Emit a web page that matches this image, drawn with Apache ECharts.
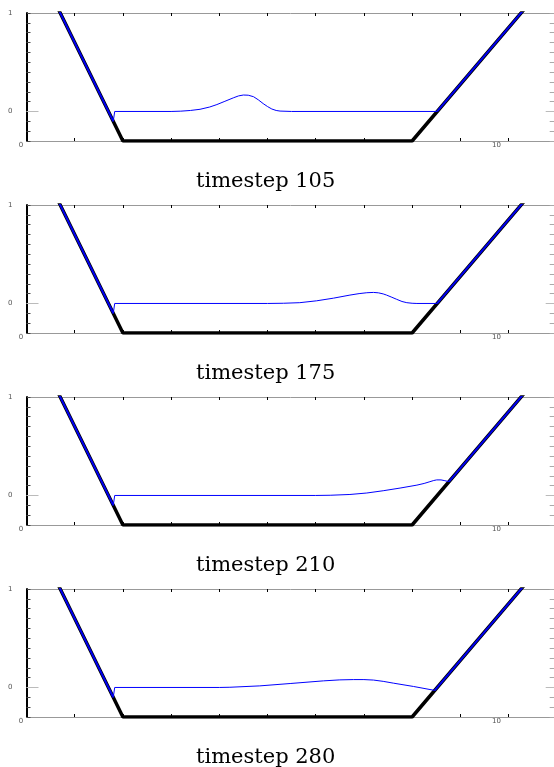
<!DOCTYPE html>
<html>
<head>
<meta charset="utf-8">
<script src="https://cdn.jsdelivr.net/npm/echarts@6/dist/echarts.min.js"></script>
<style>
  html, body { margin: 0; padding: 0; background: #fff; }
  #main { width: 554px; height: 767px; }
</style>
</head>
<body>
<div id="main"></div>
<script>
// bed profile (black)
const bedX = [0, 2, 8, 11];
const bedZ = [1.7, -0.3, -0.3, 1.425];

// water surface per timestep (blue)
const steps = [105, 175, 210, 280];
const surfX105 = [0, 1.8, 1.83, 3.0, 3.2, 3.4, 3.6, 3.8, 3.95, 4.1, 4.3, 4.4, 4.5, 4.6, 4.71, 4.81, 4.91, 5.0, 5.09, 5.18, 5.26, 5.5, 8.52, 11];
const surfZ105 = [1.7, -0.1, 0, 0, 0.003, 0.01, 0.022, 0.045, 0.07, 0.1, 0.14, 0.158, 0.167, 0.165, 0.15, 0.118, 0.08, 0.05, 0.025, 0.01, 0.004, 0, 0, 1.425];
const surfX175 = [0, 1.8, 1.83, 5.0, 5.33, 5.67, 6.02, 6.37, 6.71, 6.9, 7.06, 7.2, 7.3, 7.4, 7.47, 7.58, 7.68, 7.79, 7.89, 8.0, 8.1, 8.52, 11];
const surfZ175 = [1.7, -0.1, 0, 0, 0.002, 0.008, 0.027, 0.054, 0.085, 0.1, 0.109, 0.112, 0.108, 0.097, 0.085, 0.063, 0.042, 0.02, 0.008, 0.002, 0, 0, 1.425];
const surfX210 = [0, 1.8, 1.83, 6.0, 6.3, 6.71, 7.06, 7.4, 7.75, 8.1, 8.25, 8.37, 8.45, 8.51, 8.6, 8.68, 8.765, 11];
const surfZ210 = [1.7, -0.1, 0, 0, 0.002, 0.01, 0.025, 0.048, 0.075, 0.105, 0.122, 0.14, 0.152, 0.158, 0.158, 0.15, 0.14, 1.425];
const surfX280 = [0, 1.8, 1.83, 4.0, 4.22, 4.84, 5.47, 6.16, 6.5, 6.78, 7.0, 7.2, 7.4, 7.61, 8.03, 8.47, 11];
const surfZ280 = [1.7, -0.1, 0, 0, 0.002, 0.016, 0.04, 0.067, 0.077, 0.08, 0.08, 0.075, 0.062, 0.044, 0.01, -0.03, 1.425];

const surfX = [surfX105, surfX175, surfX210, surfX280];
const surfZ = [surfZ105, surfZ175, surfZ210, surfZ280];

const chart = echarts.init(document.getElementById('main'));

function bedAt(x) {
  for (let i = 1; i < bedX.length; i++) {
    if (x <= bedX[i]) {
      const t = (x - bedX[i - 1]) / (bedX[i] - bedX[i - 1]);
      return bedZ[i - 1] + t * (bedZ[i] - bedZ[i - 1]);
    }
  }
  return bedZ[bedZ.length - 1];
}

const panelTop = 13, panelH = 128, panelGap = 192;
const grids = [], xAxes = [], yAxes = [], series = [], titles = [];

steps.forEach(function (step, i) {
  const top = panelTop + i * panelGap;
  grids.push({ left: 26.5, right: -2.7, top: top, height: panelH, outerBoundsMode: 'none' });

  // bottom x axis
  xAxes.push({
    type: 'value', gridIndex: i, min: 0, max: 11, interval: 1, position: 'bottom',
    axisLine: { onZero: false, lineStyle: { color: '#999', width: 1 } },
    axisTick: { inside: true, length: 3, lineStyle: { color: '#000' } },
    splitLine: { show: false },
    axisLabel: {
      margin: 1, fontSize: 7, color: '#555', fontFamily: 'DejaVu Sans',
      formatter: function (v) {
        if (v === 0) return '{a|0}';
        if (v === 10) return '{b|10}';
        return '';
      },
      rich: {
        a: { fontSize: 7, color: '#555', padding: [0, 11, 0, 0] },
        b: { fontSize: 7, color: '#555', padding: [0, 24, 0, 0] }
      }
    }
  });
  // top x axis
  xAxes.push({
    type: 'value', gridIndex: i, min: 0, max: 11, interval: 1, position: 'top',
    axisLine: { onZero: false, lineStyle: { color: '#999', width: 1 } },
    axisTick: { inside: true, length: 3, lineStyle: { color: '#000' } },
    axisLabel: { show: false }, splitLine: { show: false }
  });

  // left y axis
  yAxes.push({
    type: 'value', gridIndex: i, min: -0.3, max: 1, interval: 0.1, position: 'left',
    axisLine: { show: true, onZero: false, lineStyle: { color: '#000', width: 2 } },
    axisTick: { inside: true, length: 4, lineStyle: { color: '#444' } },
    splitLine: { show: false },
    axisLabel: {
      margin: 14, fontSize: 7, color: '#555', fontFamily: 'DejaVu Sans',
      formatter: function (v) {
        if (Math.abs(v - 1) < 1e-6) return '1';
        if (Math.abs(v) < 1e-6) return '0';
        return '';
      }
    }
  });
  // long grey tick at zero, left
  yAxes.push({
    type: 'value', gridIndex: i, min: -0.3, max: 1, position: 'left',
    axisLine: { show: false, onZero: false }, axisLabel: { show: false }, splitLine: { show: false },
    axisTick: { show: true, inside: true, length: 12, customValues: [0], lineStyle: { color: '#bbb' } }
  });
  // right y axis
  yAxes.push({
    type: 'value', gridIndex: i, min: -0.3, max: 1, interval: 0.1, position: 'right',
    axisLine: { show: true, onZero: false, lineStyle: { color: '#999' } },
    axisLabel: { show: false }, splitLine: { show: false },
    axisTick: { inside: true, length: 7, lineStyle: { color: '#aaa' } }
  });
  yAxes.push({
    type: 'value', gridIndex: i, min: -0.3, max: 1, position: 'right',
    axisLine: { show: false, onZero: false }, axisLabel: { show: false }, splitLine: { show: false },
    axisTick: { show: true, inside: true, length: 11, customValues: [0], lineStyle: { color: '#bbb' } }
  });

  const xi = i * 2, yi = i * 4;
  const bed = bedX.map(function (x, k) { return [x, bedZ[k]]; });
  const surf = surfX[i].map(function (x, k) { return [x, surfZ[i][k]]; });
  const dry = surf.map(function (p) { return Math.abs(p[1] - bedAt(p[0])) < 0.012; });
  const dryLine = surf.map(function (p, k) { return dry[k] ? p : [p[0], null]; });

  series.push({
    type: 'line', xAxisIndex: xi, yAxisIndex: yi, data: bed, symbol: 'none',
    lineStyle: { color: '#000', width: 3.5 }, z: 2, silent: true
  });
  series.push({
    type: 'line', xAxisIndex: xi, yAxisIndex: yi, data: surf, symbol: 'none',
    lineStyle: { color: '#0000ff', width: 1 }, z: 3, silent: true
  });
  series.push({
    type: 'line', xAxisIndex: xi, yAxisIndex: yi, data: dryLine, symbol: 'none',
    connectNulls: false,
    lineStyle: { color: '#0000ee', width: 2 }, z: 4, silent: true
  });

  titles.push({
    text: 'timestep ' + step, left: 191, top: top + 153,
    textStyle: { fontFamily: 'DejaVu Serif', fontSize: 21, fontWeight: 'normal', color: '#000' }
  });
});

chart.setOption({
  animation: false,
  backgroundColor: '#fff',
  title: titles,
  grid: grids,
  xAxis: xAxes,
  yAxis: yAxes,
  series: series
});
</script>
</body>
</html>
